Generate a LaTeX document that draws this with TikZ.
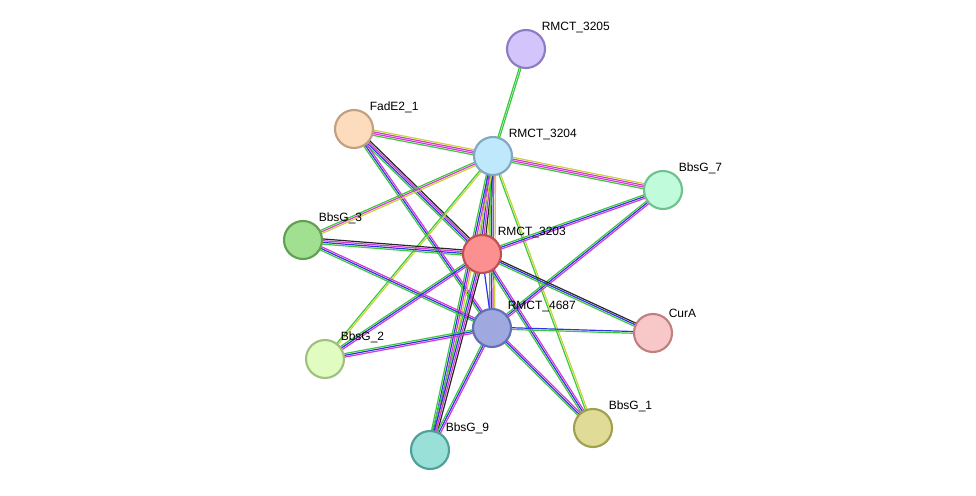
\documentclass[tikz,border=0pt]{standalone}
\usepackage{fontspec}
\setmainfont{Liberation Sans}
\usetikzlibrary{calc,backgrounds}
\definecolor{strgreen}{RGB}{60,200,60}
\definecolor{strblue}{RGB}{50,50,230}
\definecolor{strmag}{RGB}{210,60,210}
\definecolor{stryel}{RGB}{200,210,60}
\definecolor{strblack}{RGB}{40,40,40}
% one link = several thin parallel lines
\newcommand\lnk[3]{%
	\foreach \c [count=\n] in {#3} {\xdef\nlk{\n}}
	\foreach \c [count=\i] in {#3} {
		\pgfmathsetmacro\d{(\i-(\nlk+1)/2)*1.3}
		\draw[\c, line width=0.9pt] ($(#1.center)!\d pt!90:(#2.center)$) -- ($(#2.center)!\d pt!-90:(#1.center)$);
	}}
\begin{document}
\begin{tikzpicture}
	[x=0.75pt,y=-0.75pt,font=\fontsize{9}{10}\selectfont,
	prot/.style={circle,draw,line width=1.6pt,minimum size=28.5pt,inner sep=0pt},
	lbl/.style={anchor=south west,inner sep=1pt}]
	\useasboundingbox (0,0) rectangle (976,496);
	% proteins
	\node[prot,fill={rgb,255:red,212;green,196;blue,252},draw={rgb,255:red,142;green,124;blue,195}] (r3205) at (526,49) {};
	\node[prot,fill={rgb,255:red,252;green,220;blue,188},draw={rgb,255:red,192;green,160;blue,128}] (fade) at (354,129) {};
	\node[prot,fill={rgb,255:red,192;green,232;blue,252},draw={rgb,255:red,128;green,168;blue,192}] (r3204) at (493,156) {};
	\node[prot,fill={rgb,255:red,192;green,252;blue,220},draw={rgb,255:red,112;green,192;blue,144}] (b7) at (663,190) {};
	\node[prot,fill={rgb,255:red,160;green,224;blue,144},draw={rgb,255:red,96;green,160;blue,80}] (b3) at (303,240) {};
	\node[prot,fill={rgb,255:red,252;green,144;blue,144},draw={rgb,255:red,192;green,80;blue,80}] (r3203) at (482,254) {};
	\node[prot,fill={rgb,255:red,248;green,200;blue,200},draw={rgb,255:red,192;green,128;blue,128}] (cura) at (653,333) {};
	\node[prot,fill={rgb,255:red,160;green,168;blue,224},draw={rgb,255:red,96;green,112;blue,176}] (r4687) at (492,328) {};
	\node[prot,fill={rgb,255:red,224;green,252;blue,192},draw={rgb,255:red,160;green,192;blue,128}] (b2) at (325,359) {};
	\node[prot,fill={rgb,255:red,224;green,220;blue,152},draw={rgb,255:red,160;green,160;blue,80}] (b1) at (593,428) {};
	\node[prot,fill={rgb,255:red,152;green,224;blue,216},draw={rgb,255:red,80;green,160;blue,152}] (b9) at (430,450) {};
	% labels
	\node[lbl] (t3205) at (r3205.north east) {RMCT\_3205};
	\node[lbl] (tfade) at (fade.north east) {FadE2\_1};
	\node[lbl] (t3204) at (r3204.north east) {RMCT\_3204};
	\node[lbl] (tb7) at (b7.north east) {BbsG\_7};
	\node[lbl] (tb3) at (b3.north east) {BbsG\_3};
	\node[lbl] (t3203) at (r3203.north east) {RMCT\_3203};
	\node[lbl] (tcura) at (cura.north east) {CurA};
	\node[lbl] (t4687) at (r4687.north east) {RMCT\_4687};
	\node[lbl] (tb2) at (b2.north east) {BbsG\_2};
	\node[lbl] (tb1) at (b1.north east) {BbsG\_1};
	\node[lbl] (tb9) at (b9.north east) {BbsG\_9};
	% links
	\begin{scope}[on background layer]
	\lnk{r3205}{r3204}{strgreen,strgreen}
	\lnk{fade}{r3204}{strgreen,strmag,strmag,stryel}
	\lnk{fade}{r3203}{strgreen,strblue,strmag,strblack}
	\lnk{fade}{r4687}{strgreen,strblue,strmag}
	\lnk{r3204}{b7}{strgreen,strmag,strmag,stryel}
	\lnk{r3204}{b3}{strgreen,strmag,stryel}
	\lnk{r3204}{r3203}{strgreen,strblue,strmag,strblack,stryel}
	\lnk{r3204}{r4687}{strgreen,strblue,strmag,stryel}
	\lnk{r3204}{b2}{strgreen,stryel}
	\lnk{r3204}{b9}{strgreen,strblue,strmag,stryel}
	\lnk{r3204}{b1}{strgreen,stryel}
	\lnk{b7}{r3203}{strgreen,strblue,strmag}
	\lnk{b7}{r4687}{strgreen,strblue,strmag}
	\lnk{b3}{r3203}{strgreen,strblue,strmag,strblack}
	\lnk{b3}{r4687}{strgreen,strblue,strmag}
	\lnk{r3203}{cura}{strgreen,strblue,strblack}
	\lnk{r3203}{r4687}{strblue}
	\lnk{r3203}{b2}{strgreen,strblue,strmag}
	\lnk{r3203}{b9}{strgreen,strblue,strmag,strblack}
	\lnk{r3203}{b1}{strgreen,strblue,strmag}
	\lnk{r4687}{cura}{strgreen,strblue}
	\lnk{r4687}{b2}{strgreen,strblue,strmag}
	\lnk{r4687}{b9}{strgreen,strblue,strmag}
	\lnk{r4687}{b1}{strgreen,strblue,strmag}
	\end{scope}
\end{tikzpicture}
\end{document}
